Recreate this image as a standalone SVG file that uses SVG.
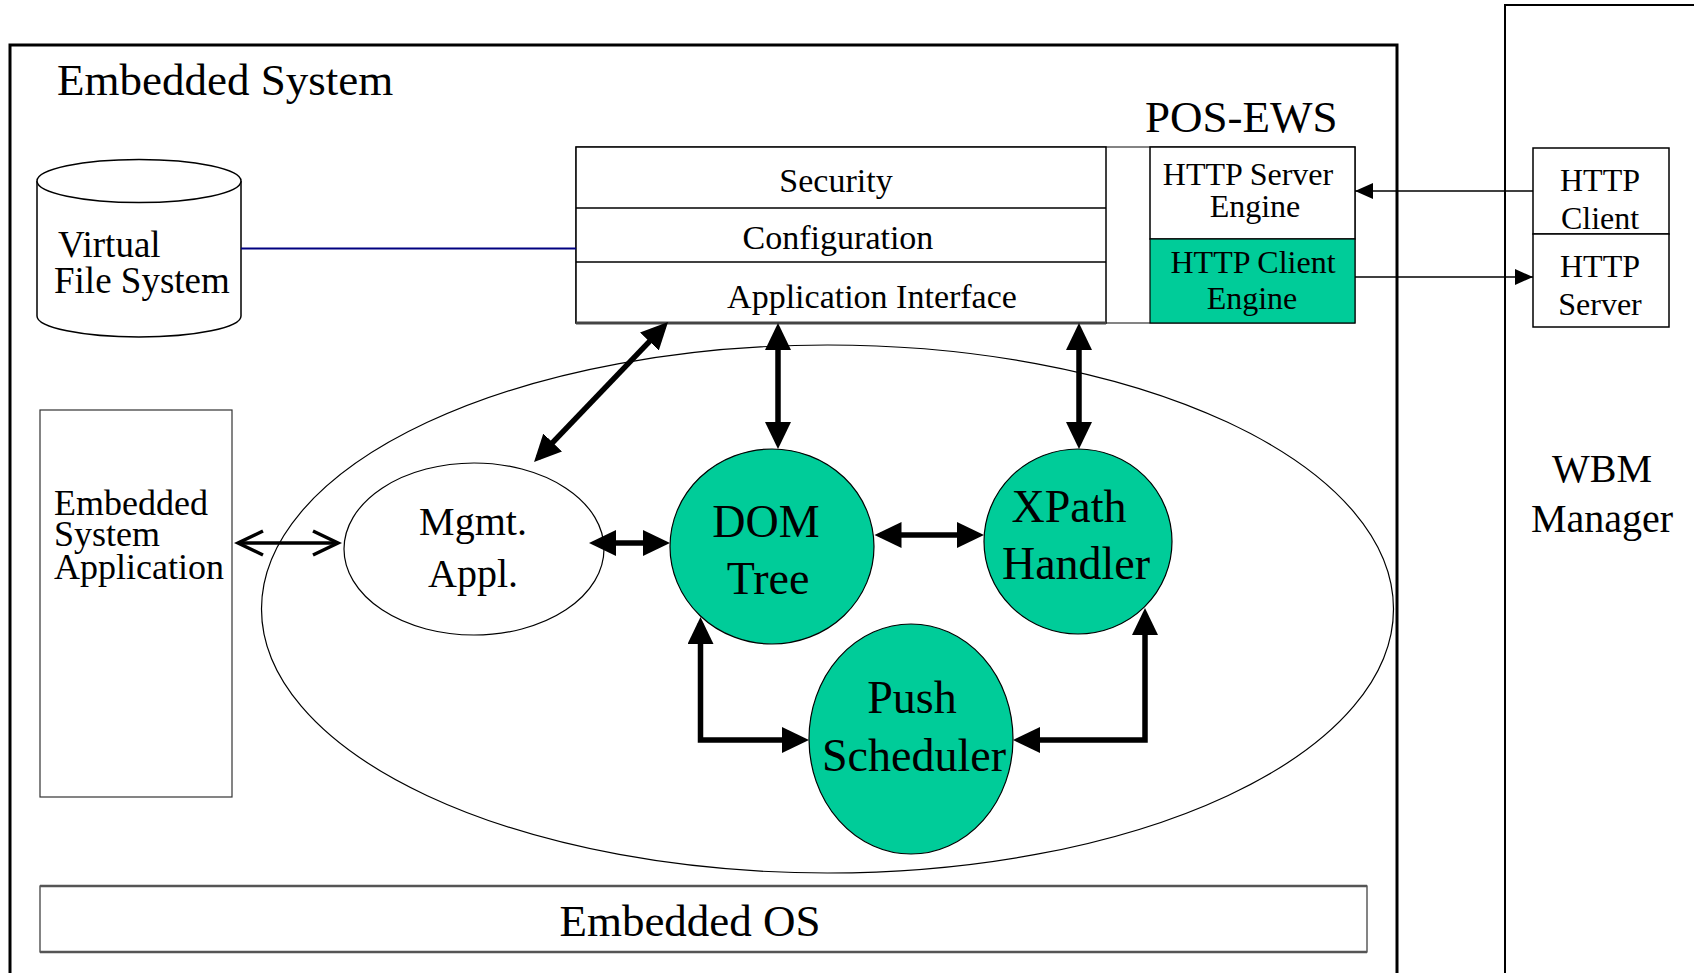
<svg xmlns="http://www.w3.org/2000/svg" width="1694" height="973" viewBox="0 0 1694 973">
  <style>
    text { font-family: "Liberation Serif", "Times New Roman", serif; fill: #000; }
    .box { fill: #fff; stroke: #000; stroke-width: 1.5; }
    .teal { fill: #00CC99; stroke: #000; stroke-width: 1.2; }
    .thick { fill: none; stroke: #000; stroke-width: 5.5; stroke-linejoin: miter; }
    .thin { fill: none; stroke: #000; stroke-width: 1.5; }
    .c { text-anchor: middle; }
  </style>
  <defs>
    <marker id="solid" markerUnits="userSpaceOnUse" markerWidth="28" markerHeight="28" refX="21" refY="13" orient="auto-start-reverse" viewBox="0 0 28 28">
      <path d="M0,0 L27,13 L0,26 z" fill="#000"/>
    </marker>
    <marker id="small" markerUnits="userSpaceOnUse" markerWidth="20" markerHeight="18" refX="18" refY="8" orient="auto-start-reverse" viewBox="0 0 20 18">
      <path d="M0,0 L18,8 L0,16 z" fill="#000"/>
    </marker>
    <marker id="open" markerUnits="userSpaceOnUse" markerWidth="30" markerHeight="30" refX="26" refY="14" orient="auto-start-reverse" viewBox="0 0 30 30">
      <path d="M1,2 L26,14 L1,26" fill="none" stroke="#000" stroke-width="3.5"/>
    </marker>
  </defs>

  <rect width="1694" height="973" fill="#fff"/>

  <!-- system boundaries -->
  <g id="embedded-system">
    <rect x="10" y="45" width="1387" height="960" fill="none" stroke="#000" stroke-width="3"/>
    <text x="57" y="95" font-size="45">Embedded System</text>
  </g>
  <g id="wbm-manager">
    <rect x="1505" y="5" width="260" height="1000" fill="none" stroke="#000" stroke-width="2"/>
    <text class="c" x="1602" y="482" font-size="40">WBM</text>
    <text class="c" x="1602" y="532" font-size="40">Manager</text>
  </g>

  <!-- inner runtime area -->
  <g id="runtime-area">
    <ellipse cx="827.5" cy="609" rx="566" ry="264" fill="none" stroke="#000" stroke-width="1.2"/>
  </g>

  <!-- virtual file system cylinder -->
  <g id="virtual-file-system">
    <path d="M37,181 L37,316 A102,21 0 0 0 241,316 L241,181" fill="#fff" stroke="#000" stroke-width="1.5"/>
    <ellipse cx="139" cy="181" rx="102" ry="21.5" fill="#fff" stroke="#000" stroke-width="1.5"/>
    <text x="58" y="257" font-size="37">Virtual</text>
    <text x="54" y="293" font-size="37">File System</text>
  </g>

  <!-- POS-EWS server stack -->
  <g id="pos-ews">
    <text x="1145" y="132" font-size="45">POS-EWS</text>
    <rect x="576" y="147" width="779" height="176" fill="#fff" stroke="#333" stroke-width="1.2"/>
    <rect x="576" y="147" width="530" height="176" class="box"/>
    <line x1="576" y1="323" x2="1106" y2="323" stroke="#444" stroke-width="3"/>
    <line x1="576" y1="208" x2="1106" y2="208" stroke="#000" stroke-width="1.5"/>
    <line x1="576" y1="262" x2="1106" y2="262" stroke="#000" stroke-width="1.5"/>
    <text class="c" x="836" y="192" font-size="34">Security</text>
    <text class="c" x="838" y="249" font-size="34">Configuration</text>
    <text class="c" x="872" y="308" font-size="34">Application Interface</text>
  </g>
  <g id="http-server-engine">
    <rect x="1150" y="147" width="205" height="92" class="box"/>
    <text class="c" x="1248" y="185" font-size="32">HTTP Server</text>
    <text class="c" x="1255" y="217" font-size="32">Engine</text>
  </g>
  <g id="http-client-engine">
    <rect x="1150" y="239" width="205" height="84" class="teal"/>
    <text class="c" x="1253" y="273" font-size="32">HTTP Client</text>
    <text class="c" x="1252" y="309" font-size="32">Engine</text>
  </g>

  <!-- WBM side HTTP endpoints -->
  <g id="wbm-http-client">
    <rect x="1533" y="148" width="136" height="86" class="box"/>
    <text class="c" x="1600" y="191" font-size="32">HTTP</text>
    <text class="c" x="1600" y="229" font-size="32">Client</text>
  </g>
  <g id="wbm-http-server">
    <rect x="1533" y="234" width="136" height="93" class="box"/>
    <text class="c" x="1600" y="277" font-size="32">HTTP</text>
    <text class="c" x="1600" y="315" font-size="32">Server</text>
  </g>

  <!-- embedded system application -->
  <g id="embedded-system-application">
    <rect x="40" y="410" width="192" height="387" fill="#fff" stroke="#333" stroke-width="1.2"/>
    <text x="54" y="515" font-size="36">Embedded</text>
    <text x="54" y="546" font-size="36">System</text>
    <text x="54" y="579" font-size="36">Application</text>
  </g>

  <!-- runtime components -->
  <g id="mgmt-appl">
    <ellipse cx="474" cy="549" rx="130" ry="86" fill="#fff" stroke="#000" stroke-width="1.2"/>
    <text class="c" x="473" y="535" font-size="40">Mgmt.</text>
    <text class="c" x="473" y="587" font-size="40">Appl.</text>
  </g>
  <g id="dom-tree">
    <ellipse cx="772" cy="546.5" rx="102" ry="97.5" class="teal"/>
    <text class="c" x="766" y="537" font-size="46">DOM</text>
    <text class="c" x="768" y="594" font-size="46">Tree</text>
  </g>
  <g id="xpath-handler">
    <ellipse cx="1078" cy="541.5" rx="94" ry="92.5" class="teal"/>
    <text class="c" x="1069" y="522" font-size="46">XPath</text>
    <text class="c" x="1076" y="579" font-size="46">Handler</text>
  </g>
  <g id="push-scheduler">
    <ellipse cx="911" cy="739" rx="102" ry="115" class="teal"/>
    <text class="c" x="912" y="713" font-size="46">Push</text>
    <text class="c" x="914" y="771" font-size="46">Scheduler</text>
  </g>

  <!-- embedded OS layer -->
  <g id="embedded-os">
    <rect x="40" y="886" width="1327" height="66" fill="#fff" stroke="#333" stroke-width="1.2"/>
    <line x1="40" y1="886" x2="1367" y2="886" stroke="#555" stroke-width="2.5"/>
    <line x1="40" y1="952" x2="1367" y2="952" stroke="#555" stroke-width="2.5"/>
    <text class="c" x="690" y="936" font-size="45">Embedded OS</text>
  </g>

  <!-- connectors -->
  <g id="connectors">
    <line x1="241" y1="248.5" x2="576" y2="248.5" stroke="#000080" stroke-width="2.2"/>
    <path class="thin" d="M1533,191 L1355,191" marker-end="url(#small)"/>
    <path class="thin" d="M1355,277 L1533,277" marker-end="url(#small)"/>
    <path d="M238,543 L338,543" fill="none" stroke="#000" stroke-width="3.5" marker-start="url(#open)" marker-end="url(#open)"/>
    <path class="thick" d="M663.9,326.3 L538.2,457.7" marker-start="url(#solid)" marker-end="url(#solid)"/>
    <path class="thick" d="M778,329 L778,443" marker-start="url(#solid)" marker-end="url(#solid)"/>
    <path class="thick" d="M1079,329 L1079,443" marker-start="url(#solid)" marker-end="url(#solid)"/>
    <path class="thick" d="M595,543 L664,543" marker-start="url(#solid)" marker-end="url(#solid)"/>
    <path class="thick" d="M880.5,535 L978,535" marker-start="url(#solid)" marker-end="url(#solid)"/>
    <path class="thick" d="M700.5,623 L700.5,740 L803,740" marker-start="url(#solid)" marker-end="url(#solid)"/>
    <path class="thick" d="M1145,614 L1145,740 L1019,740" marker-start="url(#solid)" marker-end="url(#solid)"/>
  </g>
</svg>
